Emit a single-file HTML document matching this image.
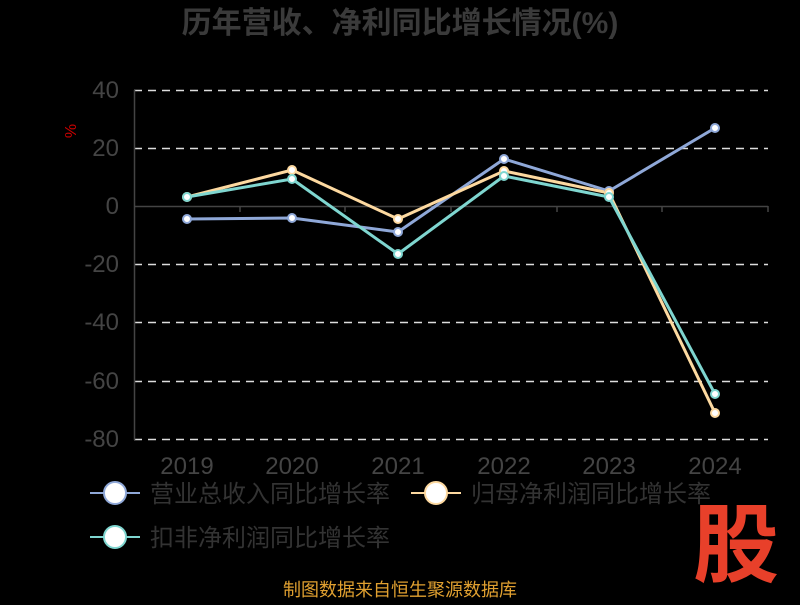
<!DOCTYPE html>
<html><head><meta charset="utf-8"><style>
body{margin:0;background:#000;width:800px;height:600px;overflow:hidden}
text{font-family:"Liberation Sans","Noto Sans CJK SC",sans-serif}
</style></head><body>
<svg width="800" height="600" viewBox="0 0 800 600">
<rect width="800" height="600" fill="#000"/>
<text x="400" y="33" text-anchor="middle" font-size="30" font-weight="bold" fill="#3a3a3a">历年营收、净利同比增长情况(%)</text>
<text x="78" y="133" font-size="16" fill="#c00" transform="rotate(-90 76 133)" text-anchor="middle">%</text>
<g stroke="#ddd" stroke-width="1.5" stroke-dasharray="8,6">
<line x1="134" y1="90.5" x2="768" y2="90.5"/>
<line x1="134" y1="148.5" x2="768" y2="148.5"/>
<line x1="134" y1="264.5" x2="768" y2="264.5"/>
<line x1="134" y1="322.5" x2="768" y2="322.5"/>
<line x1="134" y1="381.5" x2="768" y2="381.5"/>
<line x1="134" y1="439.5" x2="768" y2="439.5"/>
</g>
<g stroke="#444" stroke-width="1.5">
<line x1="134.5" y1="90" x2="134.5" y2="440"/>
<line x1="134" y1="206.5" x2="768" y2="206.5"/>
<line x1="240" y1="206" x2="240" y2="212"/><line x1="345" y1="206" x2="345" y2="212"/>
<line x1="451" y1="206" x2="451" y2="212"/><line x1="557" y1="206" x2="557" y2="212"/>
<line x1="662" y1="206" x2="662" y2="212"/><line x1="768" y1="206" x2="768" y2="212"/>
</g>
<g font-size="24" fill="#444" text-anchor="end">
<text x="119" y="98">40</text><text x="119" y="156">20</text><text x="119" y="214">0</text>
<text x="119" y="272">-20</text><text x="119" y="330">-40</text><text x="119" y="389">-60</text><text x="119" y="447">-80</text>
</g>
<g font-size="24" fill="#444" text-anchor="middle">
<text x="187" y="474">2019</text><text x="292" y="474">2020</text><text x="398" y="474">2021</text>
<text x="504" y="474">2022</text><text x="609" y="474">2023</text><text x="715" y="474">2024</text>
</g>
<g fill="none" stroke-width="3" stroke-linejoin="round">
<polyline stroke="#8fa8d8" points="187,219 292,218 398,232 504,159 609,191 715,128"/>
<polyline stroke="#fdd9a0" points="187,197 292,170 398,219 504,171 609,193 715,413"/>
<polyline stroke="#7fd6d0" points="187,197 292,179 398,254 504,176 609,197 715,394"/>
</g>
<g fill="#fff" stroke-width="2">
<g stroke="#8fa8d8"><circle cx="187" cy="219" r="4"/><circle cx="292" cy="218" r="4"/><circle cx="398" cy="232" r="4"/><circle cx="504" cy="159" r="4"/><circle cx="609" cy="191" r="4"/><circle cx="715" cy="128" r="4"/></g>
<g stroke="#fdd9a0"><circle cx="187" cy="197" r="4"/><circle cx="292" cy="170" r="4"/><circle cx="398" cy="219" r="4"/><circle cx="504" cy="171" r="4"/><circle cx="609" cy="193" r="4"/><circle cx="715" cy="413" r="4"/></g>
<g stroke="#7fd6d0"><circle cx="187" cy="197" r="4"/><circle cx="292" cy="179" r="4"/><circle cx="398" cy="254" r="4"/><circle cx="504" cy="176" r="4"/><circle cx="609" cy="197" r="4"/><circle cx="715" cy="394" r="4"/></g>
</g>
<g stroke-width="2">
<line x1="90" y1="493" x2="140" y2="493" stroke="#8fa8d8"/><circle cx="115" cy="493" r="11" fill="#fff" stroke="#8fa8d8"/>
<line x1="411" y1="493" x2="461" y2="493" stroke="#fdd9a0"/><circle cx="436" cy="493" r="11" fill="#fff" stroke="#fdd9a0"/>
<line x1="90" y1="537" x2="140" y2="537" stroke="#7fd6d0"/><circle cx="115" cy="537" r="11" fill="#fff" stroke="#7fd6d0"/>
</g>
<g font-size="24" fill="#333">
<text x="150" y="502">营业总收入同比增长率</text>
<text x="471" y="502">归母净利润同比增长率</text>
<text x="150" y="546">扣非净利润同比增长率</text>
</g>
<text x="736" y="575" text-anchor="middle" font-size="86" font-weight="bold" fill="#e8402a">股</text>
<text x="400" y="596" text-anchor="middle" font-size="18" fill="#e0a030">制图数据来自恒生聚源数据库</text>
</svg>
</body></html>
